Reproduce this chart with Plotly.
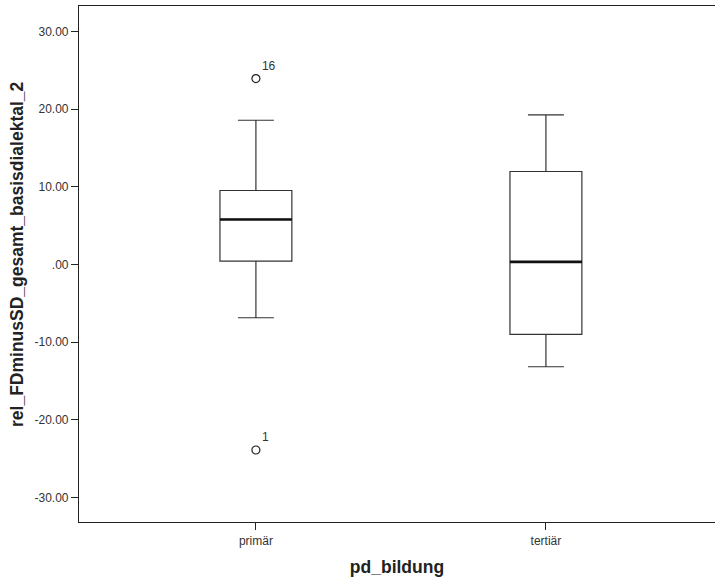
import plotly.graph_objects as go

categories = ["primär", "tertiär"]
q1 = [0.42, -9.01]
median = [5.79, 0.33]
q3 = [9.52, 11.97]
lower_whisker = [-6.87, -13.18]
upper_whisker = [18.57, 19.25]
outlier_cat = [0, 0]
outlier_val = [23.94, -23.9]
outlier_lbl = ["16", "1"]
y_ticks = [30, 20, 10, 0, -10, -20, -30]
y_tick_text = ["30.00", "20.00", "10.00", ".00", "-10.00", "-20.00", "-30.00"]
y_title = "rel_FDminusSD_gesamt_basisdialektal_2"
x_title = "pd_bildung"

BOX_W = 0.248
line_col = "#333333"
font_fam = "Liberation Sans, Arial, sans-serif"

fig = go.Figure()
xs = list(range(len(categories)))
fig.add_trace(go.Box(
    x=xs, q1=q1, median=median, q3=q3,
    lowerfence=lower_whisker, upperfence=upper_whisker,
    width=BOX_W, whiskerwidth=0.5,
    fillcolor="white", line=dict(color=line_col, width=1.2),
    boxpoints=False, showlegend=False, hoverinfo="skip",
))
for i in xs:
    fig.add_trace(go.Scatter(
        x=[i - BOX_W / 2, i + BOX_W / 2], y=[median[i], median[i]],
        mode="lines", line=dict(color="#111111", width=2.6),
        showlegend=False, hoverinfo="skip",
    ))
fig.add_trace(go.Scatter(
    x=outlier_cat, y=outlier_val, mode="markers+text",
    marker=dict(symbol="circle-open", size=8, color="#222222", line=dict(width=1.2)),
    text=outlier_lbl, textposition="top right",
    textfont=dict(family=font_fam, size=12, color="#333333"),
    showlegend=False, hoverinfo="skip",
))

fig.add_annotation(
    text="<b>" + y_title + "</b>", textangle=-90,
    xref="paper", yref="paper", x=0, y=0.5, xanchor="center", yanchor="middle",
    xshift=-62.5, yshift=9.5, showarrow=False,
    font=dict(family=font_fam, size=17.5, color="#222222"),
)

fig.update_layout(
    width=715, height=582,
    margin=dict(l=79, r=0, t=6, b=60),
    paper_bgcolor="white", plot_bgcolor="white",
    font=dict(family=font_fam, size=12, color="#333333"),
    xaxis=dict(
        range=[-0.61, 1.583], tickvals=xs, ticktext=categories,
        showline=True, linecolor="#222222", linewidth=1.2, mirror=True,
        ticks="outside", ticklen=7, tickcolor="#222222", showgrid=False, zeroline=False,
        automargin=False,
        title=dict(text="<b>" + x_title + "</b>", font=dict(family=font_fam, size=17.5, color="#222222"), standoff=14),
        tickfont=dict(family=font_fam, size=12, color="#333333"),
    ),
    yaxis=dict(
        range=[-33.17, 33.28], tickvals=y_ticks, ticktext=y_tick_text,
        showline=True, linecolor="#222222", linewidth=1.2, mirror=False,
        ticks="outside", ticklen=7, tickcolor="#222222", showgrid=False, zeroline=False,
        automargin=False,
        tickfont=dict(family=font_fam, size=12, color="#333333"),
    ),
)
fig.write_html("out.html", config={"displayModeBar": False},
               post_script="document.body.style.margin='0';")
